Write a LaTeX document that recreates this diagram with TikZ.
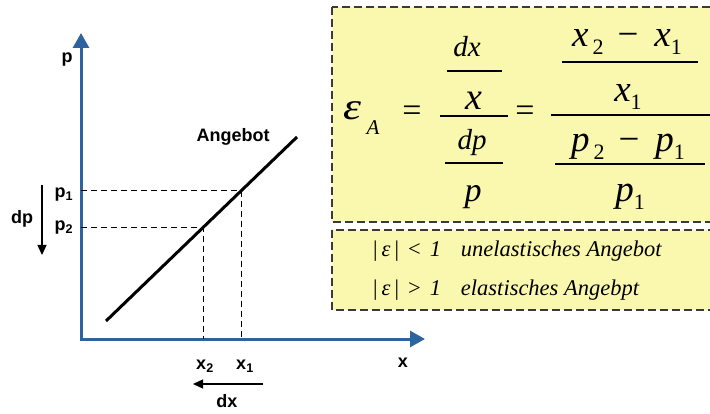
\documentclass[tikz,border=0pt]{standalone}
\usepackage{fontspec}
\setmainfont{Liberation Serif}
\setsansfont{Liberation Sans}
\usetikzlibrary{arrows.meta,calc}
\definecolor{axisblue}{HTML}{2E63A0}
\definecolor{notefill}{HTML}{FAF8AE}
\definecolor{noteedge}{HTML}{3A3A3A}
\newcommand{\lowidx}[1]{\raisebox{-8pt}{\fontsize{22}{22}\selectfont\upshape #1}}
\newcommand{\fsz}[1]{\fontsize{#1}{#1}\selectfont}

\begin{document}
\begin{tikzpicture}[x=1pt,y=-1pt,
  axis/.style={line width=3pt,axisblue,-{Triangle[length=15pt,width=16pt]}},
  guide/.style={line width=0.9pt,dash pattern=on 6pt off 4pt},
  shiftarrow/.style={line width=1.3pt,-{Triangle[length=10pt,width=9pt]}},
  lbl/.style={font=\sffamily\bfseries\fsz{18},inner sep=0pt},
  note/.style={fill=notefill,draw=noteedge,line width=1.3pt,dash pattern=on 8pt off 4pt},
  frm/.style={font=\fsz{37}\itshape,inner sep=0pt,anchor=base},
  bar/.style={line width=1.2pt},
  row/.style={font=\fsz{22.5}\itshape,anchor=base west,inner sep=0pt}]
  \clip (0,0) rectangle (710,414);
  \fill[white] (0,0) rectangle (710,414);

  % ===== formula boxes =====
  \draw[note] (332,7) rectangle (720,222);
  \draw[note] (332,230) rectangle (720,310);

  % ===== axes =====
  \coordinate (o) at (81,339);
  \coordinate (ytip) at (81,33);
  \coordinate (xtip) at (425,339);
  \draw[axis] ($(o)+(0,1.5)$) -- (ytip);
  \draw[axis] ($(o)+(-1.5,0)$) -- (xtip);
  \node[lbl] (plbl) at (67,60) {p};
  \node[lbl] (xlbl) at (403,363) {x};

  % ===== supply curve =====
  \coordinate (s0) at (106,321);
  \coordinate (s1) at (297,137);
  \draw[line width=3pt] (s0) -- (s1);
  \node[lbl] (angebot) at (233,137) {Angebot};
  \coordinate (q1) at ($(s0)!0.707!(s1)$);
  \coordinate (q2) at ($(s0)!0.508!(s1)$);
  \draw[guide] (o |- q1) -- (q1) -- (q1 |- o);
  \draw[guide] (o |- q2) -- (q2) -- (q2 |- o);

  % ===== price / quantity labels =====
  \node[lbl] (p1) at (64,195) {p\textsubscript{1}};
  \node[lbl] (p2) at (64,228) {p\textsubscript{2}};
  \node[lbl] (x2) at (205,366) {x\textsubscript{2}};
  \node[lbl] (x1) at (245,366) {x\textsubscript{1}};
  \coordinate (dptop) at (42,185);
  \coordinate (dpbot) at (42,255);
  \draw[shiftarrow] (dptop) -- (dpbot);
  \node[lbl] (dp) at (22,219) {dp};
  \coordinate (dxright) at (263,384);
  \coordinate (dxleft) at (193,384);
  \draw[shiftarrow] (dxright) -- (dxleft);
  \node[lbl] (dx) at (227,401) {dx};

  % ===== elasticity formula =====
  \node[frm,font=\fsz{38}\itshape] (eps) at (352,120) {\scalebox{1.2}[1]{ε}};
  \node[frm,font=\fsz{21}\itshape] (epsA) at (373,135) {A};
  \node[frm,font=\fsz{34}] (eq1) at (412,122) {=};
  \node[frm,font=\fsz{29}\itshape] (dxn) at (467,57) {dx};
  \node[frm,font=\fsz{38}\itshape] (xn) at (474,110) {x};
  \node[frm,font=\fsz{29}\itshape] (dpn) at (472,150) {dp};
  \node[frm,font=\fsz{34}\itshape] (pn) at (473,202) {p};
  \draw[bar] (447,71) -- (502,71);
  \draw[bar] (440,116) -- (508,116);
  \draw[bar] (445,163) -- (503,163);
  \node[frm,font=\fsz{34}] (eq2) at (525,122) {=};
  \node[frm] (xdiff) at (627,47) {x\hspace{4pt}\lowidx{2}\hspace{14pt}{\upshape −}\hspace{16pt}x\lowidx{1}};
  \node[frm] (xone) at (628,102) {x\lowidx{1}};
  \node[frm] (pdiff) at (628,152) {p\hspace{4pt}\lowidx{2}\hspace{14pt}{\upshape −}\hspace{16pt}p\lowidx{1}};
  \node[frm] (pone) at (630,202) {p\lowidx{1}};
  \draw[bar] (562,62) -- (698,62);
  \draw[bar] (551,115) -- (710,115);
  \draw[bar] (555,164) -- (705,164);

  % ===== cases =====
  \node[row] (inel) at (373,257) {{\upshape|}\hspace{4pt}ε\hspace{4pt}{\upshape|}\hspace{9pt}{\upshape<}\hspace{9pt}1\hspace{20pt}unelastisches Angebot};
  \node[row] (el) at (373,295) {{\upshape|}\hspace{4pt}ε\hspace{4pt}{\upshape|}\hspace{9pt}{\upshape>}\hspace{9pt}1\hspace{20pt}elastisches Angebpt};
\end{tikzpicture}
\end{document}
